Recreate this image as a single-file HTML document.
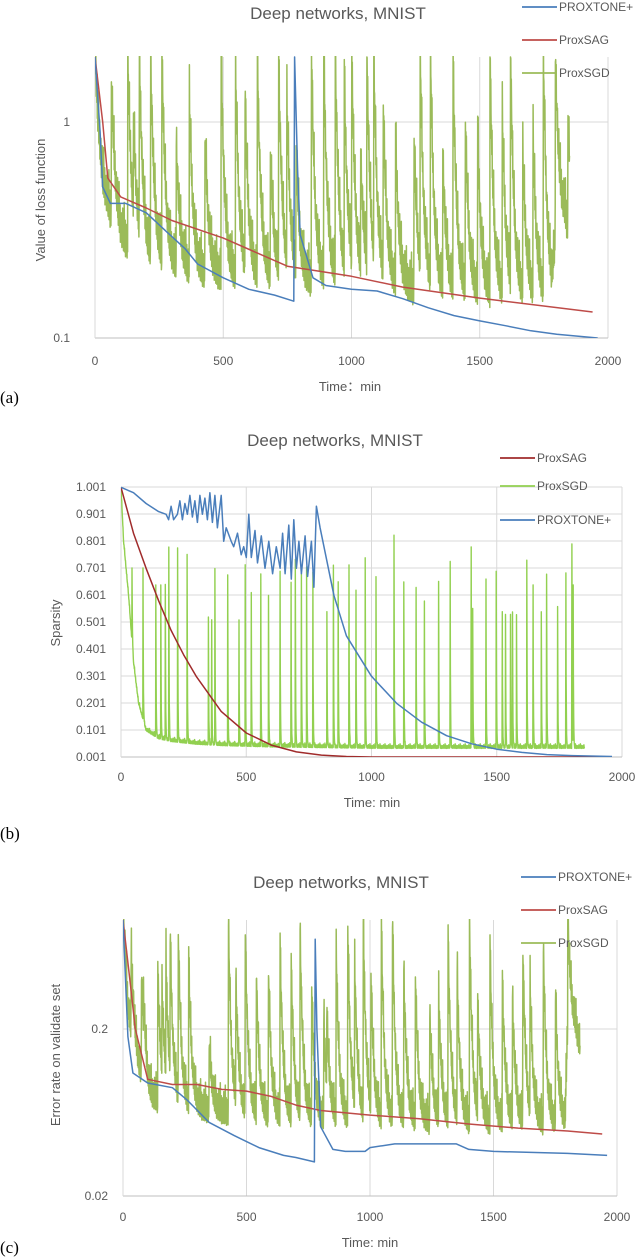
<!DOCTYPE html>
<html><head><meta charset="utf-8">
<style>
html,body{margin:0;padding:0;background:#fff;}
body{width:640px;height:1257px;overflow:hidden;position:relative;font-family:"Liberation Sans",sans-serif;}
svg{position:absolute;left:0;top:0;}
</style></head>
<body>
<svg id="fig" width="640" height="1257" viewBox="0 0 640 1257"></svg>
<script>
// ---------- Chart A data (loss, log scale) ----------
const aBlueT=[0,20,30,60,120,200,280,350,400,500,600,700,775,778,790,800,850,900,1000,1100,1200,1300,1400,1500,1600,1700,1800,1960];
const aBlueV=[2,0.9,0.5,0.42,0.42,0.38,0.31,0.26,0.22,0.19,0.168,0.158,0.148,2,0.6,0.3,0.19,0.175,0.168,0.165,0.152,0.138,0.127,0.12,0.114,0.108,0.104,0.1];
const aRedT=[0,30,50,100,200,300,500,750,1000,1200,1500,1940];
const aRedV=[2,1.0,0.55,0.45,0.4,0.35,0.29,0.215,0.193,0.172,0.153,0.132];
const aGreenBaseT=[0,10,30,60,100,200,400,600,800,1000,1200,1400,1600,1780,1800,1830,1850];
const aGreenBaseV=[2,1.0,0.5,0.35,0.26,0.21,0.18,0.17,0.165,0.165,0.155,0.145,0.14,0.14,0.3,0.32,0.26];
const aSpikeT=[64,128,150,173,217,261,317,368,429,492,548,585,633,684,716,748,784,844,892,937,972,1001,1036,1060,1087,1124,1172,1244,1268,1308,1356,1396,1444,1492,1540,1588,1620,1668,1708,1748,1795,1844];
const aSpikeV=[1.46,2,1.0,2,2,2,0.77,1.27,0.83,2,1.72,1.31,2,0.69,2,1.27,0.74,2,2,2,1.52,2,0.67,2,2,1.14,0.77,0.8,2,2,0.67,2,0.95,0.83,2,1.06,2,0.69,0.83,2,2,1.02];
// ---------- Chart B data (sparsity, linear) ----------
const bRedT=[0,50,100,150,200,250,300,400,500,600,700,800,900,1000,1940];
const bRedV=[1.0,0.83,0.7,0.58,0.47,0.38,0.3,0.17,0.09,0.045,0.02,0.008,0.003,0.001,0.001];
const bBlueT=[0,50,100,150,180,190,200,210,225,235,245,255,265,275,285,295,305,315,325,335,345,355,365,375,385,400,410,420,440,450,465,480,490,500,510,520,535,545,560,575,590,605,620,635,645,655,670,680,690,700,710,720,735,745,760,770,780,795,850,900,1000,1100,1200,1300,1400,1500,1600,1700,1800,1960];
const bBlueV=[1.0,0.98,0.94,0.91,0.9,0.88,0.93,0.88,0.9,0.95,0.88,0.94,0.9,0.97,0.89,0.95,0.87,0.97,0.9,0.96,0.88,0.98,0.87,0.97,0.85,0.97,0.8,0.85,0.8,0.78,0.83,0.75,0.78,0.74,0.9,0.74,0.84,0.72,0.82,0.7,0.8,0.68,0.78,0.7,0.83,0.68,0.86,0.66,0.88,0.7,0.8,0.68,0.82,0.67,0.8,0.63,0.93,0.85,0.6,0.45,0.3,0.2,0.13,0.08,0.05,0.03,0.018,0.01,0.006,0.003];
const bGreenBaseT=[0,10,30,50,70,100,150,200,300,400,600,1000,1850];
const bGreenBaseV=[1.0,0.8,0.6,0.35,0.2,0.1,0.07,0.06,0.05,0.045,0.04,0.035,0.035];
const bSpikeT=[44,88,139,159,177,191,226,264,349,362,375,426,471,496,520,558,589,635,679,696,720,741,766,822,848,867,910,938,975,1018,1090,1129,1178,1211,1268,1314,1398,1404,1457,1498,1522,1535,1555,1563,1579,1620,1645,1678,1699,1743,1776,1800,1805];
const bSpikeV=[0.7,0.69,0.64,0.64,0.64,0.78,0.77,0.75,0.52,0.51,0.7,0.67,0.51,0.71,0.61,0.67,0.6,0.69,0.65,0.73,0.68,0.7,0.68,0.54,0.7,0.65,0.71,0.61,0.74,0.66,0.82,0.65,0.62,0.58,0.64,0.71,0.77,0.55,0.66,0.68,0.54,0.53,0.53,0.53,0.53,0.73,0.64,0.53,0.68,0.55,0.68,0.79,0.64];
// ---------- Chart C data (error rate, log scale) ----------
const cBlueT=[0,20,40,100,200,260,350,450,550,650,700,775,778,785,800,850,900,980,1000,1100,1300,1350,1400,1500,1800,1960];
const cBlueV=[0.9,0.18,0.109,0.095,0.089,0.075,0.055,0.046,0.039,0.035,0.034,0.032,0.69,0.2,0.052,0.038,0.037,0.037,0.039,0.041,0.041,0.041,0.038,0.037,0.036,0.035];
const cRedT=[0,30,50,100,200,300,400,500,600,700,800,1000,1200,1400,1600,1800,1940];
const cRedV=[0.9,0.37,0.2,0.1,0.093,0.093,0.087,0.085,0.079,0.07,0.065,0.061,0.058,0.054,0.051,0.049,0.047];
const cGreenBaseT=[0,20,50,100,200,400,600,800,1000,1400,1790,1800,1830,1850];
const cGreenBaseV=[0.9,0.25,0.12,0.07,0.064,0.058,0.053,0.052,0.051,0.049,0.049,0.2,0.18,0.14];
const cSpikeT=[33,75,83,141,158,174,191,224,266,349,427,457,495,540,589,636,681,717,764,813,825,863,910,938,973,1004,1046,1091,1137,1184,1242,1278,1316,1353,1403,1436,1486,1536,1577,1619,1648,1702,1751,1801,1851];
const cSpikeV=[0.55,0.41,0.31,0.43,0.36,0.5,0.7,0.7,0.51,0.157,0.83,0.4,0.77,0.4,0.43,0.67,0.48,0.79,0.34,0.21,0.25,0.6,0.75,0.51,0.85,0.41,0.81,0.86,0.45,0.39,0.24,0.33,0.75,0.43,0.82,0.29,0.6,0.4,0.31,0.6,0.38,0.6,0.31,0.88,0.33];

// line texture (drawing style, cycled per sample)
const TEX=[1.0,1.18,0.96,1.32,1.05,0.93,1.22,1.0,1.45,0.97,1.1,0.94,1.28,1.02,1.6,0.95,1.12,1.0,1.35,0.92];

const NS='http://www.w3.org/2000/svg';
const svg=document.getElementById('fig');
function el(tag,attrs,parent){const e=document.createElementNS(NS,tag);for(const k in attrs)e.setAttribute(k,attrs[k]);(parent||svg).appendChild(e);return e;}
function txt(s,attrs,parent){const e=el('text',attrs,parent);e.textContent=s;return e;}
function interp(T,V,t,log){if(t<=T[0])return V[0];for(let i=1;i<T.length;i++){if(t<=T[i]){const f=(t-T[i-1])/(T[i]-T[i-1]);if(log)return Math.exp(Math.log(V[i-1])+f*(Math.log(V[i])-Math.log(V[i-1])));return V[i-1]+f*(V[i]-V[i-1]);}}return V[V.length-1];}
function pathFrom(pts){return pts.map((p,i)=>(i?'L':'M')+p[0].toFixed(1)+' '+p[1].toFixed(1)).join('');}
function linePts(T,V,xs,ys){return T.map((t,i)=>[xs(t),ys(V[i])]);}
function spikyPts(BT,BV,ST,SV,tEnd,xs,ys,log,tau,texAmp){
  const pts=[];let i=0;
  for(let t=0;t<=tEnd;t+=1,i++){
    let b=interp(BT,BV,t,log);let v=b;
    for(let k=0;k<ST.length;k++){const dt=t-ST[k];
      if(dt>=0&&dt<tau*5){let c;
        if(log){c=Math.exp(Math.log(b)+(Math.log(SV[k])-Math.log(b))*Math.exp(-dt/tau));}
        else{c=b+(SV[k]-b)*Math.exp(-dt/tau);}
        if(c>v)v=c;}}
    const tx=TEX[i%TEX.length];
    if(log) v=v*Math.pow(tx,texAmp); else v=v+(tx-1)*texAmp;
    pts.push([xs(t),ys(v)]);
  }
  return pts;
}

function chart(cfg){
  const g=el('g',{});
  
  
  const {x0,x1,yTop,yBot}=cfg;
  const xs=t=>x0+(x1-x0)*t/2000;
  [500,1000,1500,2000].forEach(t=>{const l=el('line',{x1:xs(t),x2:xs(t),y1:yTop,y2:yBot,stroke:'#d9d9d9','stroke-width':1},g);
    
    });
  cfg.hgrid.forEach(v=>{const y=cfg.ys(v);const l=el('line',{x1:x0,x2:x1,y1:y,y2:y,stroke:'#d9d9d9','stroke-width':1},g);
    
    });
  const ax=el('line',{x1:x0,x2:x1,y1:yBot,y2:yBot,stroke:'#bfbfbf','stroke-width':1},g);
  
  
  const ay=el('line',{x1:x0,x2:x0,y1:yTop,y2:yBot,stroke:'#d9d9d9','stroke-width':1},g);
  
  
  [0,500,1000,1500,2000].forEach(t=>{const e=txt(String(t),{x:xs(t),y:cfg.xTickY,'text-anchor':'middle','font-size':12,fill:'#595959'},g);
    
    });
  cfg.yTicks.forEach((v,i)=>{const e=txt(cfg.yTickLabels[i],{x:cfg.yTickX,y:cfg.ys(v)+4,'text-anchor':'end','font-size':12,fill:'#595959'},g);
    
    });
  const cid='clip'+cfg.name;
  const cp=el('clipPath',{id:cid},g);el('rect',{x:x0,y:yTop-1,width:x1-x0+4,height:yBot-yTop+1},cp);
  const sg=el('g',{'clip-path':'url(#'+cid+')'},g);
  cfg.series.forEach(s=>{const p=el('path',{d:pathFrom(s.pts(xs)),fill:'none',stroke:s.color,'stroke-width':s.w||1.5,'stroke-linejoin':'round'},sg);
    
    });
  const ti=txt('Deep networks, MNIST',{x:cfg.titleX,y:cfg.titleY,'text-anchor':'middle','font-size':17,fill:'#595959'},g);
  
  
  const xl=txt(cfg.xLabel,{x:cfg.xLabelX,y:cfg.xLabelY,'text-anchor':'middle','font-size':13,fill:'#595959'},g);
  
  
  const yl=txt(cfg.yLabel,{x:0,y:0,'text-anchor':'middle','font-size':13,fill:'#595959',transform:'translate('+cfg.yLabelX+','+cfg.yLabelY+') rotate(-90)'},g);
  
  
  cfg.legend.forEach(L=>{const lg=el('g',{},g);
    
    
    el('line',{x1:L.lx,x2:L.lx+35,y1:L.y,y2:L.y,stroke:L.color,'stroke-width':1.8},lg);
    txt(L.text,{x:L.lx+37,y:L.y+4,'font-size':12,fill:'#595959'},lg);});
  const pl=txt(cfg.panel,{x:0,y:cfg.panelY,'font-size':17,fill:'#000','font-family':'Liberation Serif, serif'},g);
  
  
}

const GREEN='#9bbb59',BLUE='#4a7ebb',RED='#be4b48',LGREEN='#92d050',DRED='#a02b2b';
const ysA=v=>122-Math.log10(v)*216;
chart({name:'chart-a-loss',x0:95,x1:608,yTop:57,yBot:338,ys:ysA,hgrid:[1],yTicks:[1,0.1],yTickLabels:['1','0.1'],yTickX:70,xTickY:365,
  titleX:338,titleY:19,xLabel:'Time：min',xLabelX:350,xLabelY:391,yLabel:'Value of loss function',yLabelX:45,yLabelY:200,panel:'(a)',panelY:403,
  legend:[{lx:522,y:7,color:BLUE,text:'PROXTONE+'},{lx:522,y:40,color:RED,text:'ProxSAG'},{lx:522,y:73,color:GREEN,text:'ProxSGD'}],
  series:[
    {name:'series-proxsgd',color:GREEN,w:1.5,pts:xs=>spikyPts(aGreenBaseT,aGreenBaseV,aSpikeT,aSpikeV,1850,xs,ysA,true,14,1)},
    {name:'series-proxsag',color:RED,pts:xs=>linePts(aRedT,aRedV,xs,ysA)},
    {name:'series-proxtone',color:BLUE,pts:xs=>linePts(aBlueT,aBlueV,xs,ysA)}
  ]});
const ysB=v=>757-(v-0.001)/0.1*27;
const bTicks=[0.001,0.101,0.201,0.301,0.401,0.501,0.601,0.701,0.801,0.901,1.001];
chart({name:'chart-b-sparsity',x0:121,x1:622,yTop:487,yBot:757,ys:ysB,hgrid:bTicks.slice(1),yTicks:bTicks,yTickLabels:bTicks.map(v=>v.toFixed(3)),yTickX:106,xTickY:781,
  titleX:335,titleY:446,xLabel:'Time: min',xLabelX:372,xLabelY:807,yLabel:'Sparsity',yLabelX:60,yLabelY:623,panel:'(b)',panelY:839,
  legend:[{lx:500,y:458,color:DRED,text:'ProxSAG'},{lx:500,y:486,color:LGREEN,text:'ProxSGD'},{lx:500,y:520,color:BLUE,text:'PROXTONE+'}],
  series:[
    {name:'series-proxsgd',color:LGREEN,w:1.4,pts:xs=>spikyPts(bGreenBaseT,bGreenBaseV,bSpikeT,bSpikeV,1850,xs,ysB,false,1.2,0.025)},
    {name:'series-proxsag',color:DRED,pts:xs=>linePts(bRedT,bRedV,xs,ysB)},
    {name:'series-proxtone',color:BLUE,pts:xs=>linePts(bBlueT,bBlueV,xs,ysB)}
  ]});
const ysC=v=>1029-Math.log10(v/0.2)*167;
chart({name:'chart-c-error',x0:123,x1:617,yTop:920,yBot:1196,ys:ysC,hgrid:[0.2],yTicks:[0.2,0.02],yTickLabels:['0.2','0.02'],yTickX:108,xTickY:1221,
  titleX:341,titleY:888,xLabel:'Time: min',xLabelX:370,xLabelY:1247,yLabel:'Error rate on validate  set',yLabelX:60,yLabelY:1055,panel:'(c)',panelY:1253,
  legend:[{lx:521,y:877,color:BLUE,text:'PROXTONE+'},{lx:521,y:910,color:RED,text:'ProxSAG'},{lx:521,y:943,color:GREEN,text:'ProxSGD'}],
  series:[
    {name:'series-proxsgd',color:GREEN,w:1.5,pts:xs=>spikyPts(cGreenBaseT,cGreenBaseV,cSpikeT,cSpikeV,1850,xs,ysC,true,12,1)},
    {name:'series-proxsag',color:RED,pts:xs=>linePts(cRedT,cRedV,xs,ysC)},
    {name:'series-proxtone',color:BLUE,pts:xs=>linePts(cBlueT,cBlueV,xs,ysC)}
  ]});
</script>
</body></html>
